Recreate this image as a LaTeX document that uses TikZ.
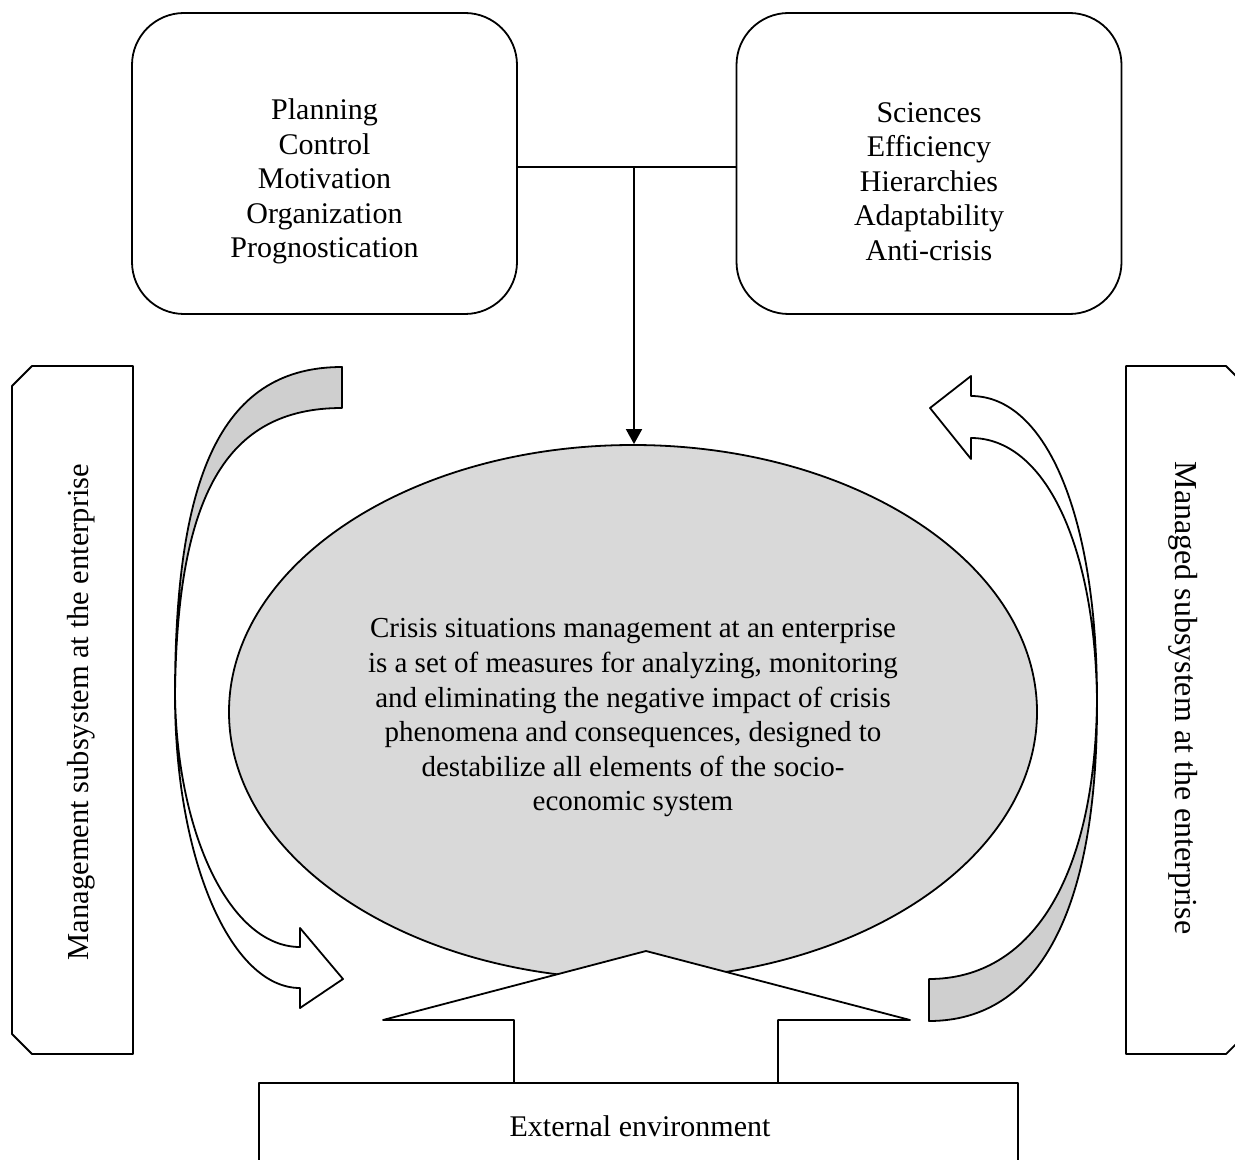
\documentclass[tikz,border=0pt]{standalone}
\usepackage{fontspec}
\setmainfont{Liberation Serif}
\usetikzlibrary{shapes.geometric,arrows.meta}
\definecolor{ellgray}{gray}{0.85}
\definecolor{bandgray}{gray}{0.81}
\begin{document}
\begin{tikzpicture}[x=0.5pt,y=-0.5pt,line width=0.9pt,line join=round,
  every node/.style={font=\fontsize{15}{17.25}\selectfont},
  topbox/.style={draw,rounded corners=26pt,minimum width=192.5pt,minimum height=150.5pt,inner sep=0pt},
  txt/.style={align=center,inner sep=0pt},
  band/.style={draw,fill=bandgray},
  whiteband/.style={draw,fill=white},
  sidebox/.style={draw,fill=white},
  conn/.style={-{Triangle[width=8pt,length=7.5pt]}}]
\useasboundingbox (0,0) rectangle (1235,1160);
\clip (0,0) rectangle (1235,1160);

% top boxes
\node[topbox] (L) at (324.5,163.5) {};
\node[txt] (Ltxt) at (324.5,181.5) {Planning\\Control\\Motivation\\Organization\\Prognostication};
\node[topbox] (R) at (929,163.5) {};
\node[txt] (Rtxt) at (929,181.5) {Sciences\\Efficiency\\Hierarchies\\Adaptability\\Anti-crisis};

% central ellipse
\node[draw,ellipse,fill=ellgray,minimum width=404pt,minimum height=267pt,inner sep=0pt] (E) at (633,712) {};
\node[txt,font=\fontsize{14.5}{17.3}\selectfont] (Etxt) at (633,718) {Crisis situations management at an enterprise\\is a set of measures for analyzing, monitoring\\and eliminating the negative impact of crisis\\phenomena and consequences, designed to\\destabilize all elements of the socio-\\economic system};

% connectors
\coordinate (j) at (634,167);
\draw (L.east|-j) -- (R.west|-j);
\draw[conn] (j) -- (j|-E.north);

% side boxes
\draw[sidebox] (133,366) -- (32,366) -- (12,386) -- (12,1034) -- (32,1054) -- (133,1054) -- cycle;
\node[txt,rotate=90,font=\fontsize{15.25}{17.25}\selectfont] (Stxt) at (81,712) {Management subsystem at the enterprise};
\draw[sidebox] (1126,366) -- (1226,366) -- (1246,386) -- (1246,1034) -- (1226,1054) -- (1126,1054) -- cycle;
\node[txt,rotate=-90,font=\fontsize{16}{18}\selectfont] (Mtxt) at (1183,698) {Managed subsystem at the enterprise};

% left ribbon
\coordinate (C) at (175,695);
\draw[band] (342,367) .. controls (224,367) and (175,470) .. (C)
  .. controls (177,495) and (226,408) .. (342,408) -- cycle;
\draw[whiteband] (C) .. controls (175,860) and (231,988) .. (300,988)
  -- (300,1008) -- (343,979) -- (300,928) -- (300,947)
  .. controls (231,947) and (177,836) .. (C);

% right ribbon
\coordinate (D) at (1097,700);
\draw[whiteband] (971,438) -- (971,459) -- (930,408) -- (971,376) -- (971,396)
  .. controls (1047,396) and (1097,518) .. (D)
  .. controls (1095,545) and (1045,438) .. (971,438) -- cycle;
\draw[band] (D) .. controls (1098,909) and (1040,1021) .. (929,1021)
  -- (929,979) .. controls (1030,979) and (1095,881) .. (D) -- cycle;

% bottom block arrow
\draw[fill=white] (383,1020) -- (646,951) -- (910,1020) -- (778,1020) -- (778,1083)
  -- (514,1083) -- (514,1020) -- cycle;

% bottom box
\draw[fill=white] (259,1170) -- (259,1083) -- (1018,1083) -- (1018,1170);
\node[txt] (X) at (640,1126) {External environment};
\end{tikzpicture}
\end{document}
